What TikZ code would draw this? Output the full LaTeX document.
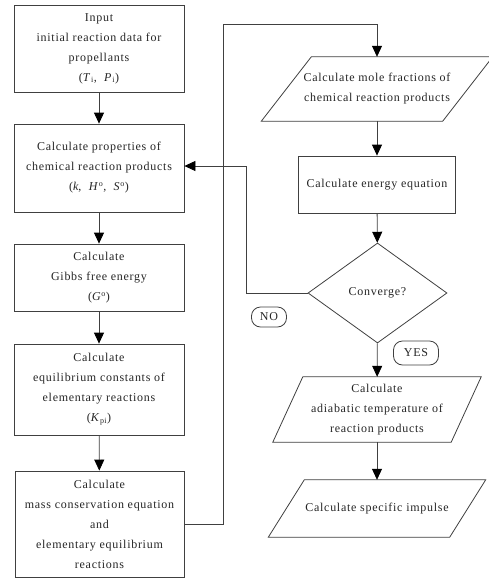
\documentclass[tikz,border=0pt]{standalone}
\usepackage{fontspec}
\setmainfont[LetterSpace=6]{Liberation Serif}
\usetikzlibrary{shapes.geometric,arrows.meta,calc}
\begin{document}
\begin{tikzpicture}[x=1pt,y=-1pt,
  every node/.style={font=\fontsize{12}{20}\selectfont, text=black!85, align=center},
  boxnode/.style={draw=black!75, line width=0.8pt, rectangle, inner sep=0pt},
  plnode/.style={draw=none, rectangle, inner sep=0pt},
  pldraw/.style={draw=black!75, line width=0.8pt},
  decision/.style={draw=black!75, line width=0.8pt, diamond, aspect=1.4, inner sep=0pt, minimum width=139pt, minimum height=100pt},
  tag/.style={draw=black!75, line width=0.8pt, rounded corners=9pt, inner sep=0pt},
  conn/.style={draw=black!75, line width=0.8pt, -{Triangle[width=10pt,length=11pt,fill=black,color=black]}},
  plain/.style={draw=black!75, line width=0.8pt}
]
\useasboundingbox (0,0) rectangle (488,579);
\fill[white] (0,0) rectangle (488,579);

% left column
\node[boxnode, minimum width=170pt, minimum height=87pt] (b1) at (99,48.5)
  {Input\\initial reaction data for\\propellants\\(\textit{T}\textsubscript{i}, \ \textit{P}\textsubscript{i})};
\node[boxnode, minimum width=170pt, minimum height=88pt] (b2) at (99,168)
  {Calculate properties of\\chemical reaction products\\(\textit{k}, \ \textit{H}\textsuperscript{o}, \ \textit{S}\textsuperscript{o})};
\node[boxnode, minimum width=170pt, minimum height=67pt] (b3) at (99,277.5)
  {Calculate\\Gibbs free energy\\(\textit{G}\textsuperscript{o})};
\node[boxnode, minimum width=170pt, minimum height=91pt] (b4) at (99,389.5)
  {Calculate\\equilibrium constants of\\elementary reactions\\(\textit{K}\textsubscript{pi})};
\node[boxnode, minimum width=169pt, minimum height=106pt] (b5) at (99.5,524)
  {Calculate\\mass conservation equation\\and\\elementary equilibrium\\reactions};

% right column
\node[plnode, minimum width=181pt, minimum height=64pt] (p1) at (377,89)
  {Calculate mole fractions of\\chemical reaction products};
\draw[pldraw] ($(p1.north west)+(25,0)$) -- ($(p1.north east)+(25,0)$)
  -- ($(p1.south east)-(25,0)$) -- ($(p1.south west)-(25,0)$) -- cycle;
\node[boxnode, minimum width=157pt, minimum height=57pt] (b6) at (377,184.5)
  {Calculate energy equation};
\node[decision] (d) at (377.5,293) {Converge?};
\node[plnode, minimum width=178pt, minimum height=65pt] (p2) at (377,409.5)
  {Calculate\\adiabatic temperature of\\reaction products};
\draw[pldraw] ($(p2.north west)+(15,0)$) -- ($(p2.north east)+(15,0)$)
  -- ($(p2.south east)-(15,0)$) -- ($(p2.south west)-(15,0)$) -- cycle;
\node[plnode, minimum width=181pt, minimum height=57pt] (p3) at (377,508.5)
  {Calculate specific impulse};
\draw[pldraw] ($(p3.north west)+(18,0)$) -- ($(p3.north east)+(18,0)$)
  -- ($(p3.south east)-(18,0)$) -- ($(p3.south west)-(18,0)$) -- cycle;

% tags
\node[tag, minimum width=35pt, minimum height=20pt] (no) at (269,317) {NO};
\node[tag, minimum width=45pt, minimum height=24pt] (yes) at (416,353) {YES};

% connectors
\draw[conn] (b1) -- (b2);
\draw[conn] (b2) -- (b3);
\draw[conn] (b3) -- (b4);
\draw[conn] (b4) -- (b5);
\coordinate (c1) at (223,524);
\coordinate (c2) at (223,24);
\coordinate (c3) at (377,24);
\draw[conn] (b5.east) -- (c1) -- (c2) -- (c3) -- (p1.north);
\draw[conn] (p1) -- (b6);
\draw[conn] (b6) -- (d);
\draw[conn] (d) -- (p2);
\draw[conn] (p2) -- (p3);
\coordinate (f1) at (246,293);
\coordinate (f2) at (246,166);
\draw[conn] (d.west) -- (f1) -- (f2) -- (b2.east |- f2);
\end{tikzpicture}
\end{document}
